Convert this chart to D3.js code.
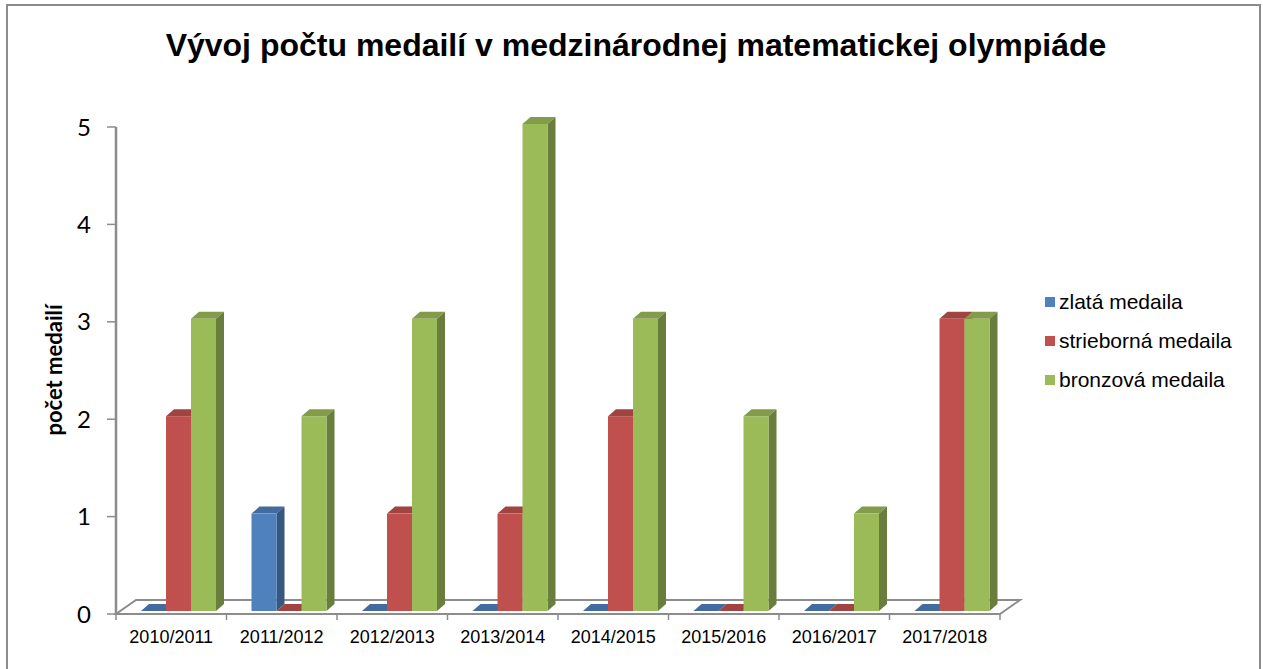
<!DOCTYPE html>
<html>
<head>
<meta charset="utf-8">
<script src="https://cdn.jsdelivr.net/npm/d3@7"></script>
<style>
  body { margin: 0; background: #fff; }
  svg { display: block; }
</style>
</head>
<body>
<div class="chart"></div>
<script>
// data
const years = ["2010/2011", "2011/2012", "2012/2013", "2013/2014", "2014/2015", "2015/2016", "2016/2017", "2017/2018"];
const seriesNames = ["zlatá medaila", "strieborná medaila", "bronzová medaila"];
const gold   = [0, 1, 0, 0, 0, 0, 0, 0];
const silver = [2, 0, 1, 1, 2, 0, 0, 3];
const bronze = [3, 2, 3, 5, 3, 2, 1, 3];
const yTicks = [0, 1, 2, 3, 4, 5];
const colors = ["#4f81bd", "#c0504d", "#9bbb59"];

const width = 1263, height = 669;
const values = [gold, silver, bronze];

const svg = d3.select(".chart").append("svg")
    .attr("width", width)
    .attr("height", height);

// outer frame
svg.append("rect")
    .attr("x", 7).attr("y", 5)
    .attr("width", 1253).attr("height", 700)
    .attr("fill", "#fff")
    .attr("stroke", "#8c8c8c")
    .attr("stroke-width", 2);

svg.append("text")
    .attr("x", 636).attr("y", 56)
    .attr("text-anchor", "middle")
    .attr("font-family", "Liberation Sans, Arial, sans-serif")
    .attr("font-weight", "bold")
    .attr("font-size", 32)
    .text("Vývoj počtu medailí v medzinárodnej matematickej olympiáde");

const x = d3.scaleBand().domain(years).range([116, 1000]);
const xs = d3.scaleBand().domain(seriesNames).range([21, 96]);
const y = d3.scaleLinear().domain([0, 5]).range([614, 127]);

// depth of the floor and of each bar
const floorD = [20, -14];
const barOff = [4, -3];
const barD = [8, -7];

const grey = "#8c8c8c";

// floor
const x0 = x.range()[0], x1 = x.range()[1], y0 = y(0);
svg.append("path")
    .attr("d", `M${x0},${y0}L${x1},${y0}L${x1 + floorD[0]},${y0 + floorD[1]}L${x0 + floorD[0]},${y0 + floorD[1]}Z`)
    .attr("fill", "#fff")
    .attr("stroke", grey)
    .attr("stroke-width", 2);

// x axis ticks
svg.append("g").selectAll("line")
    .data(d3.range(years.length + 1))
    .join("line")
    .attr("x1", i => x0 + i * x.bandwidth())
    .attr("x2", i => x0 + i * x.bandwidth())
    .attr("y1", y0).attr("y2", y0 + 6)
    .attr("stroke", grey).attr("stroke-width", 1.5);

svg.append("g").selectAll("text")
    .data(years)
    .join("text")
    .attr("x", d => x(d) + x.bandwidth() / 2)
    .attr("y", 643)
    .attr("text-anchor", "middle")
    .attr("font-family", "Liberation Sans, Arial, sans-serif")
    .attr("font-size", 18)
    .text(d => d);

// y axis
svg.append("line")
    .attr("x1", x0).attr("x2", x0)
    .attr("y1", y(5)).attr("y2", y0)
    .attr("stroke", grey).attr("stroke-width", 2.5);

const yAxis = svg.append("g");
yAxis.selectAll("line")
    .data(yTicks)
    .join("line")
    .attr("x1", x0 - 9).attr("x2", x0)
    .attr("y1", d => y(d)).attr("y2", d => y(d))
    .attr("stroke", grey).attr("stroke-width", 1.5);
yAxis.selectAll("text")
    .data(yTicks)
    .join("text")
    .attr("x", 91)
    .attr("y", d => y(d))
    .attr("dy", "0.36em")
    .attr("text-anchor", "end")
    .attr("font-family", "Lato, Open Sans, sans-serif")
    .attr("font-size", 24)
    .text(d => d);

svg.append("text")
    .attr("transform", "translate(62,370) rotate(-90)")
    .attr("text-anchor", "middle")
    .attr("font-family", "Lato, Open Sans, sans-serif")
    .attr("font-weight", "bold")
    .attr("font-size", 22)
    .text("počet medailí");

// bars, drawn left to right so each front face hides the previous side face
const bars = [];
years.forEach((yr, i) => {
    seriesNames.forEach((s, j) => {
        bars.push({ year: yr, series: s, value: values[j][i], color: colors[j] });
    });
});

const barW = xs.bandwidth();
const g = svg.append("g");
bars.forEach(b => {
    const bx = x(b.year) + xs(b.series) + barOff[0];
    const base = y(0) + barOff[1];
    const top = y(b.value) + barOff[1];
    const c = d3.color(b.color);
    const bg = g.append("g");
    // top face
    bg.append("path")
        .attr("d", `M${bx},${top}L${bx + barW},${top}L${bx + barW + barD[0]},${top + barD[1]}L${bx + barD[0]},${top + barD[1]}Z`)
        .attr("fill", c.darker(0.5));
    if (b.value > 0) {
        // side face
        bg.append("path")
            .attr("d", `M${bx + barW},${top}L${bx + barW + barD[0]},${top + barD[1]}L${bx + barW + barD[0]},${base + barD[1]}L${bx + barW},${base}Z`)
            .attr("fill", c.darker(1.1));
        // front face
        bg.append("rect")
            .attr("x", bx).attr("y", top)
            .attr("width", barW).attr("height", base - top)
            .attr("fill", b.color);
    }
});

// legend
const legend = svg.append("g").selectAll("g")
    .data(seriesNames)
    .join("g")
    .attr("transform", (d, i) => `translate(1045,${302 + i * 39})`);
legend.append("rect")
    .attr("x", 0).attr("y", -5)
    .attr("width", 10).attr("height", 10)
    .attr("fill", (d, i) => colors[i]);
legend.append("text")
    .attr("x", 14).attr("y", 0)
    .attr("dy", "0.35em")
    .attr("font-family", "Liberation Sans, Arial, sans-serif")
    .attr("font-size", 21)
    .text(d => d);
</script>
</body>
</html>
